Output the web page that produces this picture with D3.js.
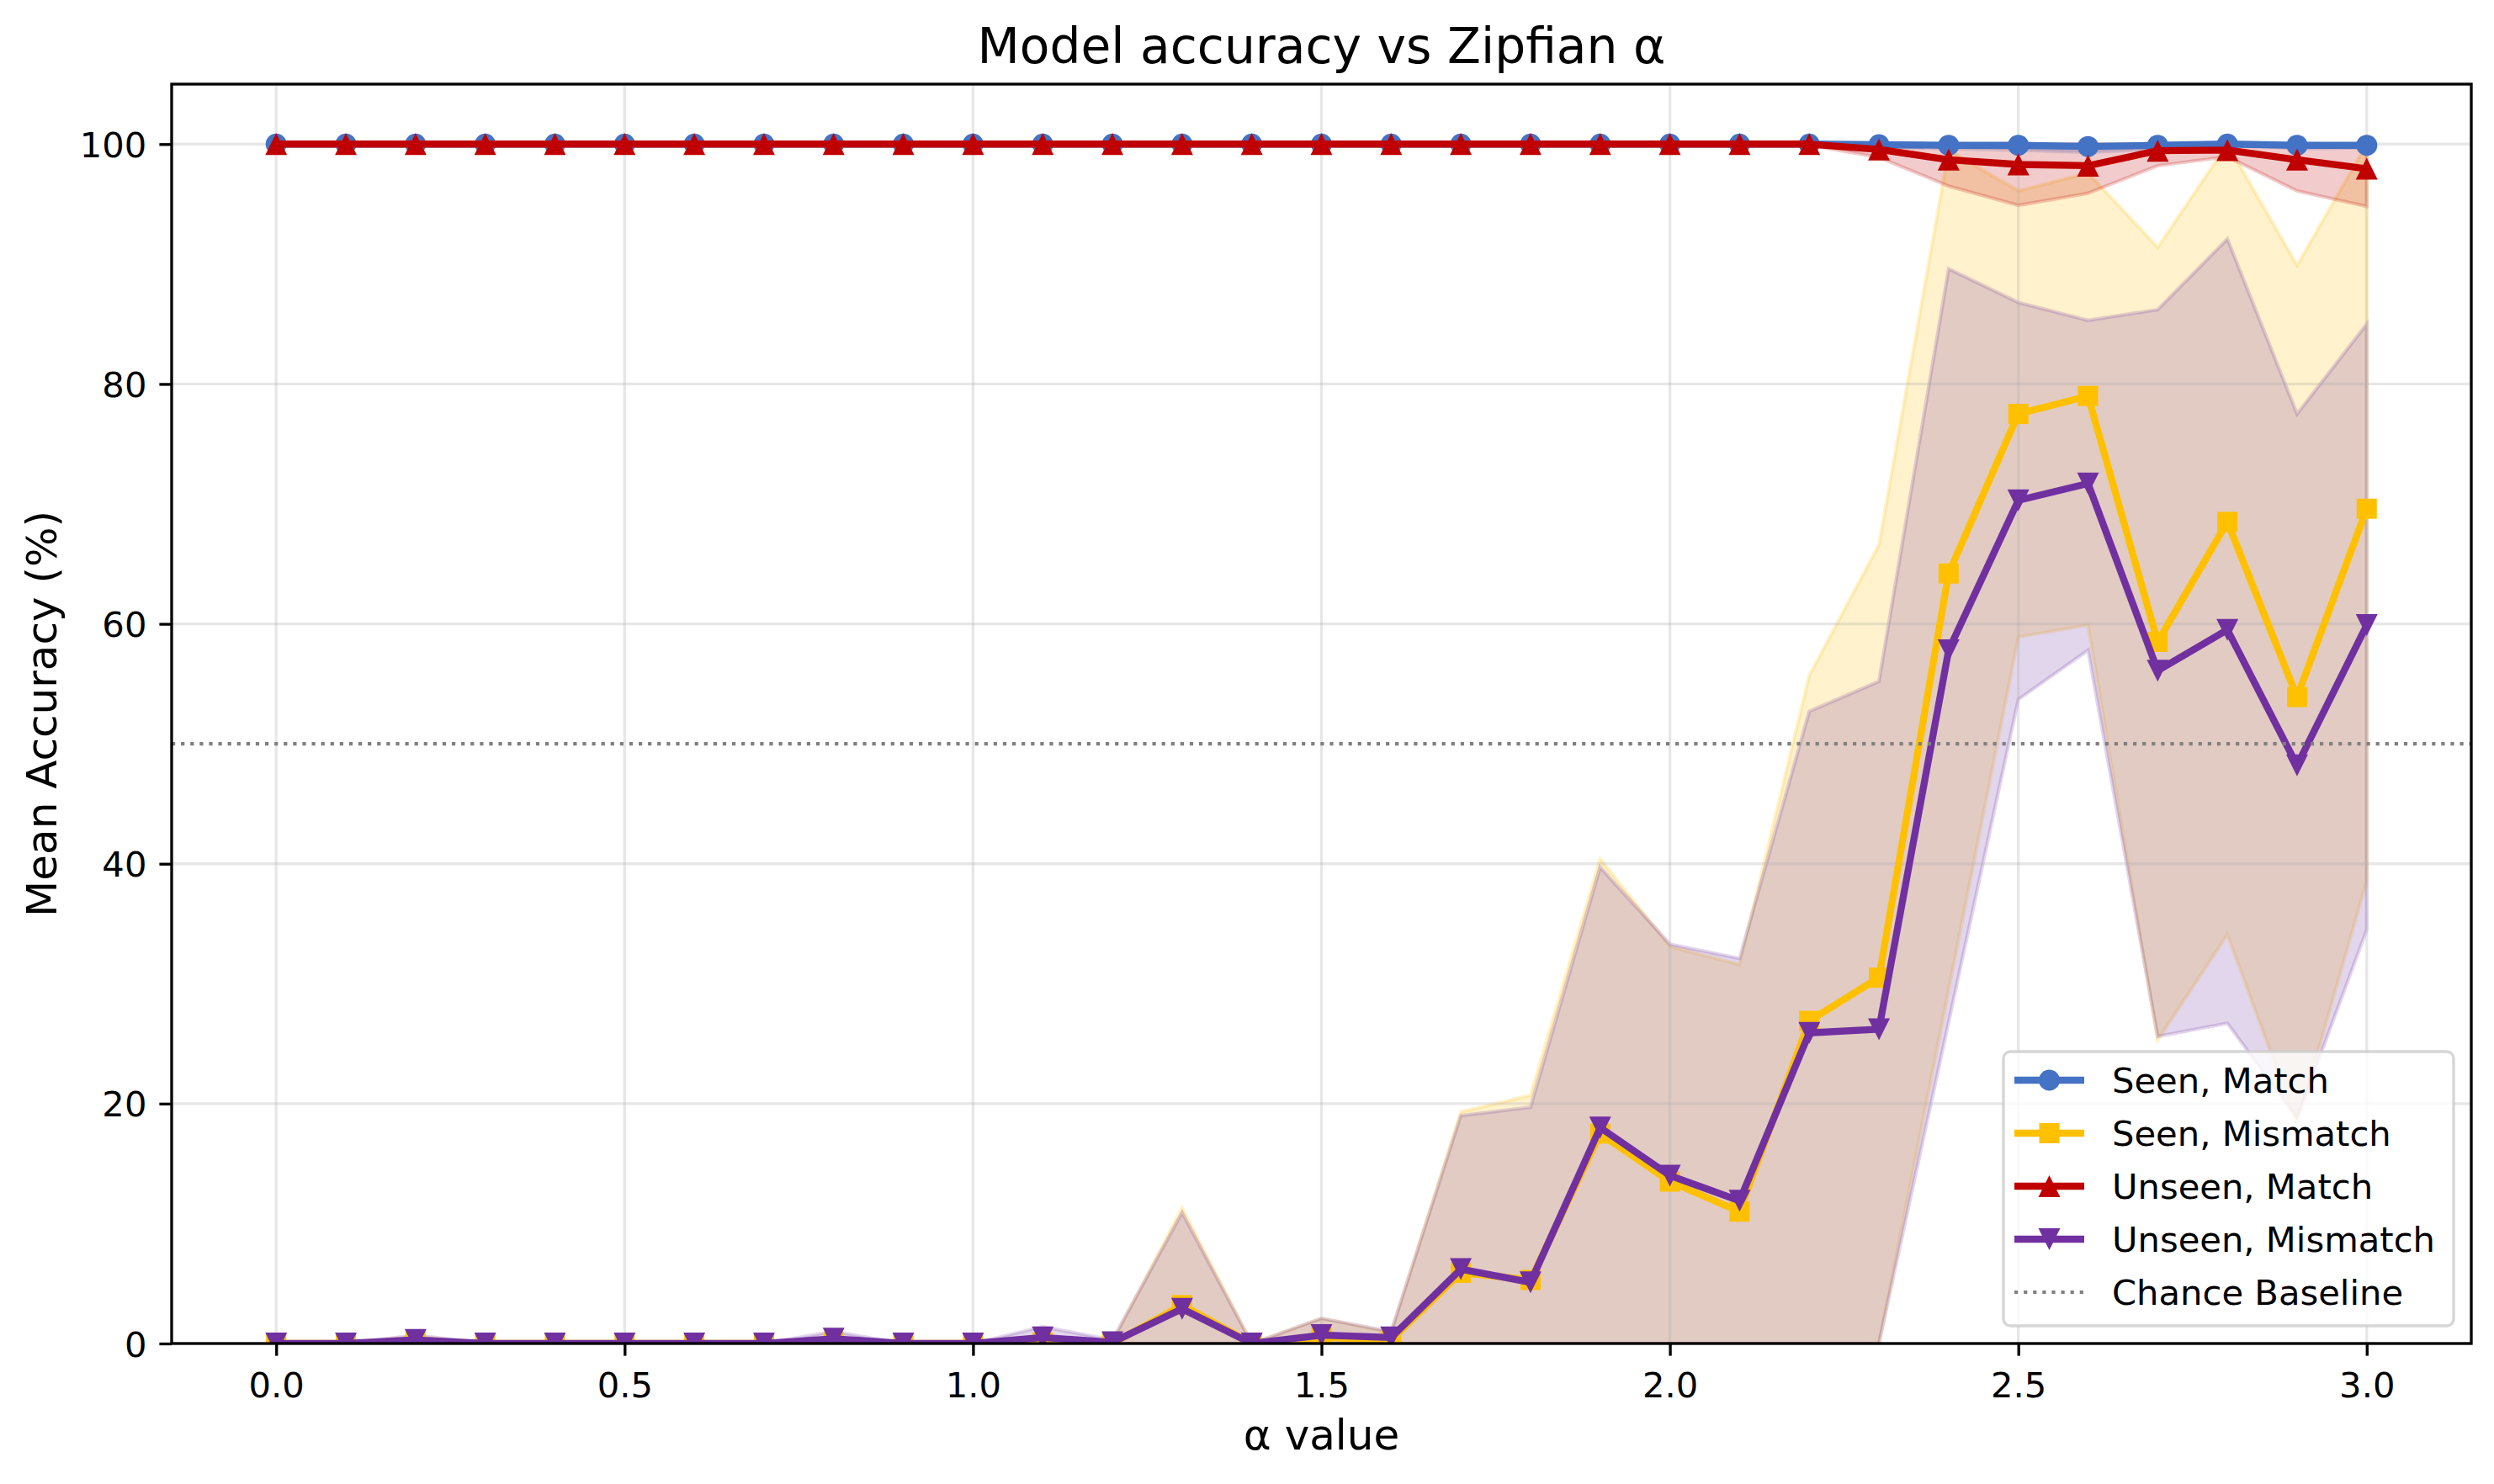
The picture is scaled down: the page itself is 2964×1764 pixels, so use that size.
<!DOCTYPE html>
<html>
<head>
<meta charset="utf-8">
<script src="https://cdn.jsdelivr.net/npm/d3@7"></script>
<style>
  body { margin: 0; background: #fff; }
  svg { display: block; font-family: "DejaVu Sans", sans-serif; }
</style>
</head>
<body>
<div id="chart"></div>
<script>
// valores
const alphas = [0.0, 0.1, 0.2, 0.3, 0.4, 0.5, 0.6, 0.7, 0.8, 0.9, 1.0, 1.1, 1.2, 1.3, 1.4, 1.5,
  1.6, 1.7, 1.8, 1.9, 2.0, 2.1, 2.2, 2.3, 2.4, 2.5, 2.6, 2.7, 2.8, 2.9, 3.0];

const seenMatchMean = [100, 100, 100, 100, 100, 100, 100, 100, 100, 100, 100, 100, 100, 100, 100, 100,
  100, 100, 100, 100, 100, 100, 100, 99.95, 99.9, 99.9, 99.8, 99.9, 100, 99.9, 99.9];
const seenMatchLow = [100, 100, 100, 100, 100, 100, 100, 100, 100, 100, 100, 100, 100, 100, 100, 100,
  100, 100, 100, 100, 100, 100, 100, 99.8, 99.6, 99.5, 99.3, 99.6, 100, 99.6, 99.7];
const seenMatchHigh = [100, 100, 100, 100, 100, 100, 100, 100, 100, 100, 100, 100, 100, 100, 100, 100,
  100, 100, 100, 100, 100, 100, 100, 100, 100, 100, 100, 100, 100, 100, 100];

const seenMismatchMean = [0, 0, 0.2, 0, 0, 0, 0, 0, 0.1, 0, 0, 0.1, 0, 3.2, 0, 0.5,
  0.3, 5.9, 5.3, 17.5, 13.5, 11.0, 26.9, 30.5, 64.2, 77.5, 79.0, 58.5, 68.5, 53.9, 69.6];
const seenMismatchLow = [0, 0, 0, 0, 0, 0, 0, 0, 0, 0, 0, 0, 0, 0, 0, 0,
  0, 0, 0, 0, 0, 0, 0, 0, 29.5, 58.9, 59.9, 25.3, 34.1, 18.3, 38.6];
const seenMismatchHigh = [0, 0, 0.6, 0, 0, 0, 0, 0, 0.3, 0, 0, 0.4, 0.1, 11.3, 0, 2.1,
  0.9, 19.3, 20.7, 40.4, 33.1, 31.6, 55.7, 66.6, 99.5, 96.1, 97.6, 91.4, 100, 89.9, 100];

const unseenMatchMean = [100, 100, 100, 100, 100, 100, 100, 100, 100, 100, 100, 100, 100, 100, 100, 100,
  100, 100, 100, 100, 100, 100, 100, 99.55, 98.7, 98.3, 98.2, 99.45, 99.5, 98.7, 97.95];
const unseenMatchLow = [100, 100, 100, 100, 100, 100, 100, 100, 100, 100, 100, 100, 100, 100, 100, 100,
  100, 100, 100, 100, 100, 100, 99.9, 98.9, 96.5, 94.9, 95.9, 98.2, 98.95, 96.1, 94.8];
const unseenMatchHigh = [100, 100, 100, 100, 100, 100, 100, 100, 100, 100, 100, 100, 100, 100, 100, 100,
  100, 100, 100, 100, 100, 100, 100, 100, 100, 100, 100, 100, 100, 100, 100];

const unseenMismatchMean = [0, 0, 0.3, 0, 0, 0, 0, 0, 0.4, 0, 0, 0.5, 0.1, 2.9, 0, 0.7,
  0.5, 6.2, 5.1, 18.0, 14.0, 11.9, 25.9, 26.2, 57.8, 70.3, 71.7, 56.1, 59.5, 48.2, 59.9];
const unseenMismatchLow = [0, 0, 0, 0, 0, 0, 0, 0, 0, 0, 0, 0, 0, 0, 0, 0,
  0, 0, 0, 0, 0, 0, 0, 0, 26.8, 53.7, 57.8, 25.6, 26.7, 18.8, 34.5];
const unseenMismatchHigh = [0, 0, 0.7, 0, 0, 0, 0, 0, 1.0, 0, 0, 1.4, 0.3, 10.9, 0, 2.1,
  1.0, 19.0, 19.7, 39.7, 33.3, 32.1, 52.7, 55.2, 89.6, 86.8, 85.3, 86.2, 92.1, 77.5, 85.0];

const seriesNames = ['Seen, Match', 'Seen, Mismatch', 'Unseen, Match', 'Unseen, Mismatch'];
const chanceLevel = 50;
const chanceName = 'Chance Baseline';

const xTicks = [0.0, 0.5, 1.0, 1.5, 2.0, 2.5, 3.0];
const yTicks = [0, 20, 40, 60, 80, 100];

const series = [
  { name: seriesNames[0], mean: seenMatchMean, low: seenMatchLow, high: seenMatchHigh, color: '#4472C4', marker: 'circle' },
  { name: seriesNames[1], mean: seenMismatchMean, low: seenMismatchLow, high: seenMismatchHigh, color: '#FFC000', marker: 'square' },
  { name: seriesNames[2], mean: unseenMatchMean, low: unseenMatchLow, high: unseenMatchHigh, color: '#C00000', marker: 'up' },
  { name: seriesNames[3], mean: unseenMismatchMean, low: unseenMismatchLow, high: unseenMismatchHigh, color: '#7030A0', marker: 'down' }
];

const W = 2964, H = 1764;
const margin = { top: 100, right: 27, bottom: 167, left: 204 };
const width = W - margin.left - margin.right;
const height = H - margin.top - margin.bottom;

const svg = d3.select('#chart')
  .append('svg')
  .attr('width', W)
  .attr('height', H);

svg.append('rect').attr('width', W).attr('height', H).attr('fill', '#fff');

const g = svg.append('g')
  .attr('transform', 'translate(' + margin.left + ',' + margin.top + ')');

const x = d3.scaleLinear().domain([-0.15, 3.15]).range([0, width]);
const y = d3.scaleLinear().domain([0, 105]).range([height, 0]);

g.append('clipPath').attr('id', 'plot-clip')
  .append('rect').attr('width', width).attr('height', height);

const plot = g.append('g').attr('clip-path', 'url(#plot-clip)');

// Faixas (desvio)
const area = d3.area()
  .x(d => x(d.a))
  .y0(d => y(d.low))
  .y1(d => y(d.high));

series.forEach(s => {
  const rows = alphas.map((a, i) => ({ a, low: s.low[i], high: s.high[i] }));
  plot.append('path')
    .datum(rows)
    .attr('d', area)
    .attr('fill', s.color)
    .attr('fill-opacity', 0.2)
    .attr('stroke', s.color)
    .attr('stroke-opacity', 0.2)
    .attr('stroke-width', 4.2);
});

// Grade
plot.selectAll('.grid-x')
  .data(xTicks)
  .enter()
  .append('line')
  .attr('x1', d => x(d)).attr('x2', d => x(d))
  .attr('y1', 0).attr('y2', height)
  .attr('stroke', '#b0b0b0').attr('stroke-opacity', 0.3).attr('stroke-width', 3.33);

plot.selectAll('.grid-y')
  .data(yTicks)
  .enter()
  .append('line')
  .attr('x1', 0).attr('x2', width)
  .attr('y1', d => y(d)).attr('y2', d => y(d))
  .attr('stroke', '#b0b0b0').attr('stroke-opacity', 0.3).attr('stroke-width', 3.33);

function markerPath(kind) {
  if (kind === 'square') return 'M-12,-12h24v24h-24Z';
  if (kind === 'up') return 'M0,-13L13,13L-13,13Z';
  if (kind === 'down') return 'M0,13L13,-13L-13,-13Z';
  return null;
}

function drawMarker(sel, kind, color) {
  if (kind === 'circle') {
    sel.append('circle').attr('r', 12.5).attr('fill', color);
  } else {
    sel.append('path').attr('d', markerPath(kind)).attr('fill', color);
  }
}

// Linhas + marcadores
const line = d3.line()
  .x(d => x(d.a))
  .y(d => y(d.v));

series.forEach(s => {
  const rows = alphas.map((a, i) => ({ a, v: s.mean[i] }));
  plot.append('path')
    .datum(rows)
    .attr('d', line)
    .attr('fill', 'none')
    .attr('stroke', s.color)
    .attr('stroke-width', 8.33)
    .attr('stroke-linejoin', 'round');

  plot.selectAll(null)
    .data(rows)
    .enter()
    .append('g')
    .attr('transform', d => 'translate(' + x(d.a) + ',' + y(d.v) + ')')
    .each(function () { drawMarker(d3.select(this), s.marker, s.color); });
});

// linha de chance
plot.append('line')
  .attr('x1', 0).attr('x2', width)
  .attr('y1', y(chanceLevel)).attr('y2', y(chanceLevel))
  .attr('stroke', '#808080')
  .attr('stroke-width', 4.2)
  .attr('stroke-dasharray', '4.2 6.9');

// Eixos
const xAxis = g.append('g')
  .attr('transform', 'translate(0,' + height + ')')
  .call(d3.axisBottom(x).tickValues(xTicks).tickFormat(d3.format('.1f'))
    .tickSize(14.6).tickSizeOuter(0).tickPadding(20));

const yAxis = g.append('g')
  .call(d3.axisLeft(y).tickValues(yTicks).tickFormat(d3.format('d'))
    .tickSize(14.6).tickSizeOuter(0).tickPadding(15));

[xAxis, yAxis].forEach(ax => {
  ax.select('.domain').remove();
  ax.selectAll('line').attr('stroke', '#000').attr('stroke-width', 3.33);
  ax.selectAll('text')
    .attr('fill', '#000')
    .style('font-size', '41.7px')
    .style('font-family', '"DejaVu Sans", sans-serif');
});
yAxis.selectAll('text').attr('dy', '0.36em');

g.append('rect')
  .attr('width', width).attr('height', height)
  .attr('fill', 'none').attr('stroke', '#000').attr('stroke-width', 3.33);

// Títulos
svg.append('text')
  .attr('x', margin.left + width / 2).attr('y', 75)
  .attr('text-anchor', 'middle')
  .style('font-size', '58.3px')
  .text('Model accuracy vs Zipfian α');

svg.append('text')
  .attr('x', margin.left + width / 2).attr('y', 1723)
  .attr('text-anchor', 'middle')
  .style('font-size', '50px')
  .text('α value');

svg.append('text')
  .attr('transform', 'translate(67,' + (margin.top + height / 2) + ') rotate(-90)')
  .attr('text-anchor', 'middle')
  .style('font-size', '50px')
  .text('Mean Accuracy (%)');

// Legenda
const legW = 535, legH = 326;
const legend = g.append('g')
  .attr('transform', 'translate(' + (width - 21 - legW) + ',' + (height - 21 - legH) + ')');

legend.append('rect')
  .attr('width', legW).attr('height', legH)
  .attr('rx', 8.3).attr('ry', 8.3)
  .attr('fill', '#fff').attr('fill-opacity', 0.8)
  .attr('stroke', '#cccccc').attr('stroke-opacity', 0.8).attr('stroke-width', 3.33);

const legItems = series.map(s => ({ name: s.name, color: s.color, marker: s.marker, dotted: false }))
  .concat([{ name: chanceName, color: '#808080', marker: null, dotted: true }]);

const rowsG = legend.selectAll('.leg-row')
  .data(legItems)
  .enter()
  .append('g')
  .attr('transform', (d, i) => 'translate(13,' + (34 + i * 63) + ')');

rowsG.append('line')
  .attr('x1', 0).attr('x2', 83)
  .attr('stroke', d => d.color)
  .attr('stroke-width', d => d.dotted ? 4.2 : 8.33)
  .attr('stroke-dasharray', d => d.dotted ? '4.2 6.9' : null);

rowsG.filter(d => d.marker)
  .append('g')
  .attr('transform', 'translate(41.5,0)')
  .each(function (d) { drawMarker(d3.select(this), d.marker, d.color); });

rowsG.append('text')
  .attr('x', 116).attr('y', 15)
  .style('font-size', '41.7px')
  .text(d => d.name);
</script>
</body>
</html>
